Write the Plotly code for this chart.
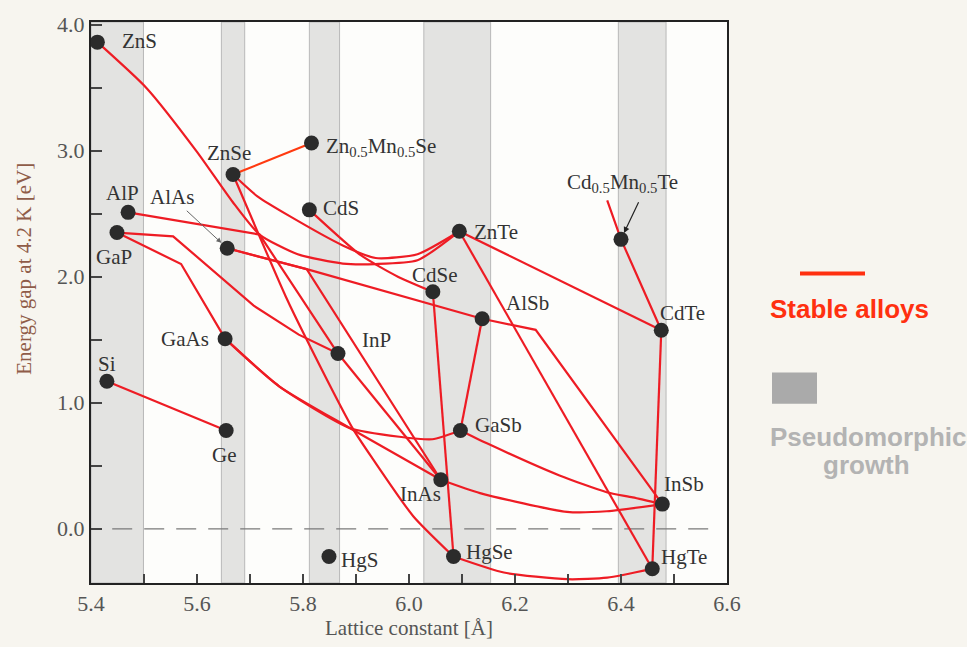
import plotly.graph_objects as go

# ---------------- data ----------------
names   = ["ZnS", "ZnSe", "ZnMnSe", "CdS", "AlP", "GaP", "AlAs", "ZnTe", "CdSe", "AlSb",
           "CdTe", "CdMnTe", "GaAs", "InP", "Si", "Ge", "GaSb", "InAs", "InSb", "HgS", "HgSe", "HgTe"]
lattice = [5.412, 5.668, 5.816, 5.812, 5.470, 5.449, 5.657, 6.095, 6.045, 6.138,
           6.476, 6.400, 5.653, 5.866, 5.430, 5.655, 6.097, 6.060, 6.478, 5.849, 6.084, 6.459]
gap     = [3.86, 2.81, 3.06, 2.53, 2.51, 2.35, 2.225, 2.36, 1.88, 1.666,
           1.575, 2.296, 1.508, 1.39, 1.17, 0.78, 0.78, 0.389, 0.196, -0.22, -0.22, -0.317]

labels = ["ZnS", "ZnSe", "Zn<sub>0.5</sub>Mn<sub>0.5</sub>Se", "CdS", "AlP", "GaP", "AlAs", "ZnTe",
          "CdSe", "AlSb", "CdTe", "Cd<sub>0.5</sub>Mn<sub>0.5</sub>Te", "GaAs", "InP", "Si", "Ge",
          "GaSb", "InAs", "InSb", "HgS", "HgSe", "HgTe"]

# alloy lines: node names or intermediate (lattice, gap) readings
alloy_ZnS_ZnTe   = ["ZnS", (5.505, 3.495), (5.600, 2.99), (5.667, 2.594), (5.718, 2.334), (5.790, 2.178),
                    (5.875, 2.104), (5.937, 2.10), (6.016, 2.13), "ZnTe"]
alloy_ZnSe_ZnTe  = ["ZnSe", (5.714, 2.637), (5.774, 2.482), (5.875, 2.248), (5.937, 2.148), (6.016, 2.178), "ZnTe"]
alloy_CdS_CdSe   = ["CdS", (5.909, 2.17), (5.979, 2.0), "CdSe"]
alloy_ZnSe_Mn    = ["ZnSe", "ZnMnSe"]
alloy_ZnSe_HgSe  = ["ZnSe", (5.767, 1.847), (5.805, 1.518), (5.894, 0.795), (5.932, 0.553), (6.008, 0.10), "HgSe"]
alloy_AlP_InP    = ["AlP", (5.718, 2.334), "InP"]
alloy_GaP_InP    = ["GaP", (5.555, 2.32), (5.707, 1.77), (5.792, 1.54), "InP"]
alloy_GaP_GaAs   = ["GaP", (5.570, 2.10), "GaAs"]
alloy_AlAs_AlSb  = ["AlAs", (5.807, 2.06), "AlSb"]
alloy_AlAs_InAs  = ["AlAs", (5.807, 2.06), "InAs"]
alloy_InP_InAs   = ["InP", "InAs"]
alloy_GaAs_InAs  = ["GaAs", (5.755, 1.13), (5.888, 0.80), "InAs"]
alloy_GaAs_GaSb  = ["GaAs", (5.755, 1.13), (5.888, 0.80), (5.982, 0.73), (6.044, 0.71), "GaSb"]
alloy_Si_Ge      = ["Si", "Ge"]
alloy_AlSb_GaSb  = ["AlSb", "GaSb"]
alloy_AlSb_InSb  = ["AlSb", (6.239, 1.578), "InSb"]
alloy_GaSb_InSb  = ["GaSb", (6.146, 0.68), (6.284, 0.423), (6.373, 0.29), (6.422, 0.249), "InSb"]
alloy_InAs_InSb  = ["InAs", (6.134, 0.283), (6.298, 0.134), (6.373, 0.139), "InSb"]
alloy_CdSe_HgSe  = ["CdSe", "HgSe"]
alloy_ZnTe_CdTe  = ["ZnTe", "CdTe"]
alloy_ZnTe_HgTe  = ["ZnTe", "HgTe"]
alloy_CdTe_HgTe  = ["CdTe", "HgTe"]
alloy_MnTe_CdTe  = [(6.374, 2.606), "CdMnTe", "CdTe"]
alloy_HgSe_HgTe  = ["HgSe", (6.179, -0.347), (6.299, -0.40), (6.374, -0.388), "HgTe"]

alloys = [alloy_ZnS_ZnTe, alloy_ZnSe_ZnTe, alloy_CdS_CdSe, alloy_ZnSe_Mn, alloy_ZnSe_HgSe,
          alloy_AlP_InP, alloy_GaP_InP, alloy_GaP_GaAs, alloy_AlAs_AlSb, alloy_AlAs_InAs,
          alloy_InP_InAs, alloy_GaAs_InAs, alloy_GaAs_GaSb, alloy_Si_Ge, alloy_AlSb_GaSb,
          alloy_AlSb_InSb, alloy_GaSb_InSb, alloy_InAs_InSb, alloy_CdSe_HgSe, alloy_ZnTe_CdTe,
          alloy_ZnTe_HgTe, alloy_CdTe_HgTe, alloy_MnTe_CdTe, alloy_HgSe_HgTe]
smooth = [True, True, True, False, True, False, False, False, False, False, False, True, True,
          False, False, False, True, True, False, False, False, False, False, True]

# pseudomorphic growth bands (lattice constant ranges)
band_lo = [5.400, 5.646, 5.812, 6.028, 6.395]
band_hi = [5.499, 5.690, 5.869, 6.154, 6.485]

zero_x = [5.44, 6.57]
zero_y = [0.0, 0.0]

# label placement (pixel offsets from dot)
lab_anchor = ["left", "center", "left", "left", "center", "center", None, "left", "center", "left",
              "left", "center", "right", "left", "center", "center", "left", "center", "left", "left", "left", "left"]
lab_dx = [23, -4, 13, 12, -6, -3, 0, 13, 2, 22, -3, 1, -14, 22, 0, -2, 13, -20, 0, 10, 10, 7]
lab_dy = [1, 22, -4, 2, 19, -24, 0, -1, 17, 16, 17, 56, 0, 14, 17, -25, 5, -14, 20, -3, 5, 12]

# ---------------- figure ----------------
pos = {n: (lx, g) for n, lx, g in zip(names, lattice, gap)}
RED = "#ee1c24"
SERIF = "Liberation Serif, Times New Roman, serif"
SANS = "Liberation Sans, Arial, sans-serif"

fig = go.Figure()

fig.add_trace(go.Scatter(x=zero_x, y=zero_y, mode="lines",
                         line=dict(color="#7a7a7a", width=1.2, dash="20px,12px"),
                         hoverinfo="skip", showlegend=False))

for path, sm in zip(alloys, smooth):
    xs, ys = [], []
    for p in path:
        px, py = pos[p] if isinstance(p, str) else p
        xs.append(px)
        ys.append(py)
    col = "#ff3a10" if path is alloy_ZnSe_Mn else RED
    fig.add_trace(go.Scatter(x=xs, y=ys, mode="lines",
                             line=dict(color=col, width=2.2,
                                       shape="spline" if sm else "linear", smoothing=0.6),
                             hoverinfo="skip", showlegend=False))

fig.add_trace(go.Scatter(x=lattice, y=gap, mode="markers",
                         marker=dict(size=15, color="#2b2b2b"),
                         hoverinfo="skip", showlegend=False))

shapes = []
for lo, hi in zip(band_lo, band_hi):
    shapes.append(dict(type="rect", xref="x", yref="paper", x0=lo, x1=hi, y0=0, y1=1,
                       fillcolor="#e3e3e1", line=dict(color="#b9b9b9", width=1), layer="below"))

L, R, T, B = 91, 240, 13, 61
W, H = 967, 647
pw, ph = W - L - R, H - T - B
def px_x(p):
    return (p - L) / pw
def px_y(p):
    return (H - B - p) / ph

# legend on the right
shapes.append(dict(type="line", xref="paper", yref="paper", x0=px_x(800), x1=px_x(865),
                   y0=px_y(270), y1=px_y(270), line=dict(color="#ff3010", width=4)))
shapes.append(dict(type="rect", xref="paper", yref="paper", x0=px_x(772), x1=px_x(817),
                   y0=px_y(403), y1=px_y(371), fillcolor="#aaaaaa", line=dict(width=0)))

LABEL_FONT = dict(family=SERIF, size=21, color="#333333")
annotations = []
for n, lab, anc, dx, dy in zip(names, labels, lab_anchor, lab_dx, lab_dy):
    if anc is None:
        continue
    annotations.append(dict(x=pos[n][0], y=pos[n][1], xref="x", yref="y", text=lab,
                            showarrow=False, xanchor=anc, yanchor="middle", xshift=dx, yshift=dy,
                            font=LABEL_FONT))

# AlAs label with arrow
annotations.append(dict(x=pos["AlAs"][0], y=pos["AlAs"][1], xref="x", yref="y", text="AlAs",
                        showarrow=True, ax=-55, ay=-51, arrowhead=2, arrowsize=1, arrowwidth=1,
                        arrowcolor="#666666", standoff=8, font=LABEL_FONT))
# Cd0.5Mn0.5Te arrow
annotations.append(dict(x=pos["CdMnTe"][0], y=pos["CdMnTe"][1], xref="x", yref="y", text=" ",
                        showarrow=True, ax=19, ay=-40, arrowhead=2, arrowsize=1, arrowwidth=1.2,
                        arrowcolor="#222222", standoff=7, font=dict(size=2)))

# y axis title (placed as in the original scan)
annotations.append(dict(x=px_x(24), y=px_y(265), xref="paper", yref="paper",
                        text="Energy gap at 4.2 K [eV]", textangle=-90,
                        xanchor="center", yanchor="middle", showarrow=False,
                        font=dict(family=SERIF, size=21, color="#8f5c48")))

annotations.append(dict(x=px_x(849), y=px_y(306), xref="paper", yref="paper", text="<b>Stable alloys</b>",
                        xanchor="center", yanchor="middle",
                        showarrow=False, font=dict(family=SANS, size=26, color="#ff3010")))
annotations.append(dict(x=px_x(868), y=px_y(437), xref="paper", yref="paper", text="<b>Pseudomorphic</b>",
                        xanchor="center", yanchor="middle",
                        showarrow=False, font=dict(family=SANS, size=26, color="#b3b3b3")))
annotations.append(dict(x=px_x(866), y=px_y(465), xref="paper", yref="paper", text="<b>growth</b>",
                        xanchor="center", yanchor="middle",
                        showarrow=False, font=dict(family=SANS, size=26, color="#b3b3b3")))

fig.update_layout(
    width=W, height=H,
    margin=dict(l=L, r=R, t=T, b=B),
    paper_bgcolor="#f7f5ef",
    plot_bgcolor="#fdfdfb",
    shapes=shapes,
    annotations=annotations,
    showlegend=False,
    xaxis=dict(range=[5.4, 6.6], tick0=5.4, dtick=0.2, tickformat=".1f", ticks="inside", ticklen=9,
               tickwidth=1.5, tickcolor="#444", showgrid=False, zeroline=False,
               minor=dict(ticks="inside", dtick=0.1, ticklen=9, tickwidth=1.5, tickcolor="#444", showgrid=False),
               showline=True, linecolor="#222", linewidth=2, mirror=True,
               tickfont=dict(family=SERIF, size=22, color="#555"),
               title=dict(text="Lattice constant [Å]", standoff=4,
                          font=dict(family=SERIF, size=21, color="#555"))),
    yaxis=dict(range=[-0.43, 4.02], tick0=0, dtick=1.0, tickformat=".1f", ticks="inside", ticklen=11,
               tickwidth=1.5, tickcolor="#444", showgrid=False, zeroline=False,
               minor=dict(ticks="inside", dtick=0.5, ticklen=11, tickwidth=1.5, tickcolor="#444", showgrid=False),
               showline=True, linecolor="#222", linewidth=2, mirror=True,
               tickfont=dict(family=SERIF, size=22, color="#555")),
)

fig.write_html("out.html", config={"displayModeBar": False},
               post_script="document.body.style.margin='0';")
